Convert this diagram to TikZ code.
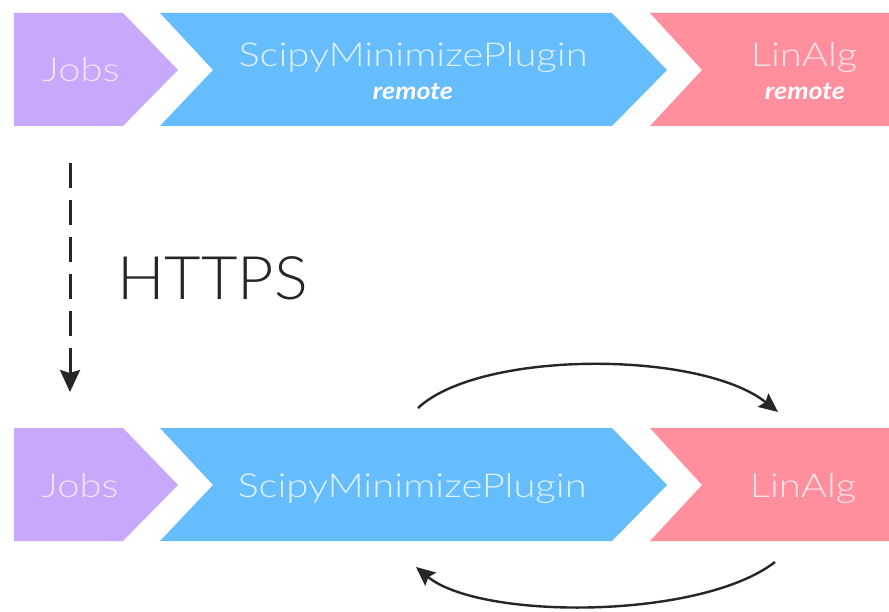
\documentclass[tikz,border=0pt]{standalone}
\usepackage{fontspec}
\setmainfont{Lato Light}
\newfontfamily\widefont{Lato Light}[FakeStretch=1.21]
\newfontfamily\subfont{Lato}[FakeStretch=1.12]
\newfontfamily\bigfont{Lato Light}[FakeStretch=1.05]
\usetikzlibrary{arrows.meta}
\definecolor{jobsfill}{HTML}{C8A8FA}
\definecolor{scipyfill}{HTML}{66BDFE}
\definecolor{linfill}{HTML}{FF8F9C}
\definecolor{jobstext}{HTML}{F2E4FF}
\definecolor{scipytext}{HTML}{DDF1FF}
\definecolor{lintext}{HTML}{FFE4E8}
\definecolor{ink}{HTML}{262626}
\tikzset{
  title/.style={font=\widefont\fontsize{33}{33}\selectfont, inner sep=0pt, anchor=base},
  sub/.style={font=\subfont\fontsize{24}{24}\selectfont\bfseries\itshape, text=white, inner sep=0pt, anchor=base},
  tip/.style={-{Stealth[length=19pt,width=17pt,inset=3pt]}},
  flow/.style={line width=2.4pt, ink, tip},
}
\begin{document}
\begin{tikzpicture}[x=1pt,y=-1pt]
\useasboundingbox (0,0) rectangle (889,612);
\fill[white] (0,0) rectangle (889,612);
% upper pipeline
\begin{scope}
\fill[jobsfill] (14,13) -- (123,13) -- (178,70) -- (123,126) -- (14,126) -- cycle;
\fill[scipyfill] (160,13) -- (612,13) -- (667,70) -- (612,126) -- (160,126) -- (213,70) -- cycle;
\fill[linfill] (650,13) -- (889,13) -- (889,126) -- (650,126) -- (702,70) -- cycle;
\node[title, text=jobstext] (jobsA) at (81,82) {Jobs};
\node[title, text=scipytext] (scipyA) at (413,67) {ScipyMinimizePlugin};
\node[sub] (scipyremA) at (413,100) {remote};
\node[title, text=lintext] (linA) at (804,67) {LinAlg};
\node[sub] (linremA) at (805,100) {remote};
\end{scope}
% lower pipeline
\begin{scope}[yshift=-415pt]
\fill[jobsfill] (14,13) -- (123,13) -- (178,70) -- (123,126) -- (14,126) -- cycle;
\fill[scipyfill] (160,13) -- (612,13) -- (667,70) -- (612,126) -- (160,126) -- (213,70) -- cycle;
\fill[linfill] (650,13) -- (889,13) -- (889,126) -- (650,126) -- (702,70) -- cycle;
\node[title, text=jobstext] (jobsB) at (80,82) {Jobs};
\node[title, text=scipytext] (scipyB) at (412,82) {ScipyMinimizePlugin};
\node[title, text=lintext] (linB) at (803,82) {LinAlg};
\end{scope}
% transport between the two
\coordinate (httpsTop) at (70,163);
\coordinate (httpsEnd) at (70,392);
\draw[line width=3pt, ink, dash pattern=on 25pt off 12pt, -{Stealth[length=22pt,width=20pt,inset=3pt]}] (httpsTop) -- (httpsEnd);
\node[font=\bigfont\fontsize{60}{60}\selectfont, text=ink, anchor=base west, inner sep=0pt] (https) at (117,300) {HTTPS};
% calls between plugin and LinAlg
\coordinate (callOut) at (418,408);
\coordinate (callIn) at (778,412);
\coordinate (retOut) at (775,562);
\coordinate (retIn) at (416,567);
\draw[flow] (callOut) .. controls (480,350) and (700,350) .. (callIn);
\draw[flow] (retOut) .. controls (700,620) and (480,620) .. (retIn);
\end{tikzpicture}
\end{document}
